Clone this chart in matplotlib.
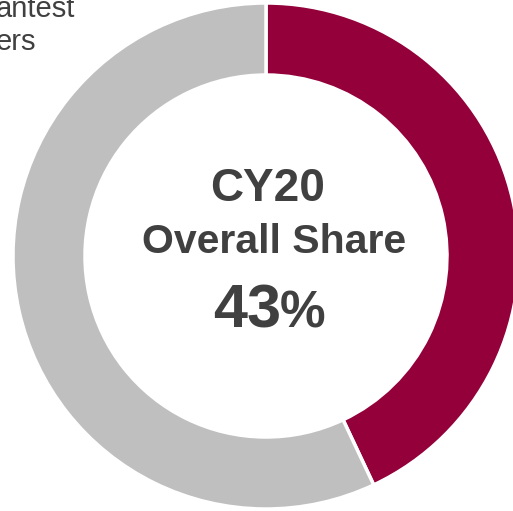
import matplotlib
matplotlib.use("Agg")
import matplotlib.pyplot as plt

labels = ["CY20 share", "Others"]
values = [43, 57]
colors = ["#93003A", "#BFBFBF"]
year_label = "CY20"
title_label = "Overall Share"
share_value = "43"
corner_lines = ["antest", "ers"]

plt.rcParams['font.family'] = ['Liberation Sans', 'DejaVu Sans']

W, H = 513, 511
fig = plt.figure(figsize=(W / 100, H / 100), dpi=100)
ax = fig.add_axes([0, 0, 1, 1])

cx, cy, R = 266, 255, 253
ax.pie(values, colors=colors, startangle=90, counterclock=False,
       center=(cx, cy), radius=R,
       wedgeprops=dict(width=72, edgecolor='white', linewidth=2.5))
ax.set_xlim(0, W)
ax.set_ylim(0, H)
ax.set_aspect('equal')
ax.axis('off')

txt = '#404040'
ax.text(cx + 2, H - 189, year_label, ha='center', va='center', fontsize=33,
        fontweight='bold', color=txt)
ax.text(cx + 8, H - 242, title_label, ha='center', va='center', fontsize=29.5,
        fontweight='bold', color=txt)
ax.text(cx + 15, H - 327, share_value, ha='right', va='baseline', fontsize=44,
        fontweight='bold', color=txt)
ax.text(cx + 14, H - 327, "%", ha='left', va='baseline', fontsize=37,
        fontweight='bold', color=txt)

ax.text(-4, H - 17, corner_lines[0], ha='left', va='baseline', fontsize=21,
        color=txt)
ax.text(-4, H - 50, corner_lines[1], ha='left', va='baseline', fontsize=21,
        color=txt)

fig.savefig("out.png", dpi=100)
